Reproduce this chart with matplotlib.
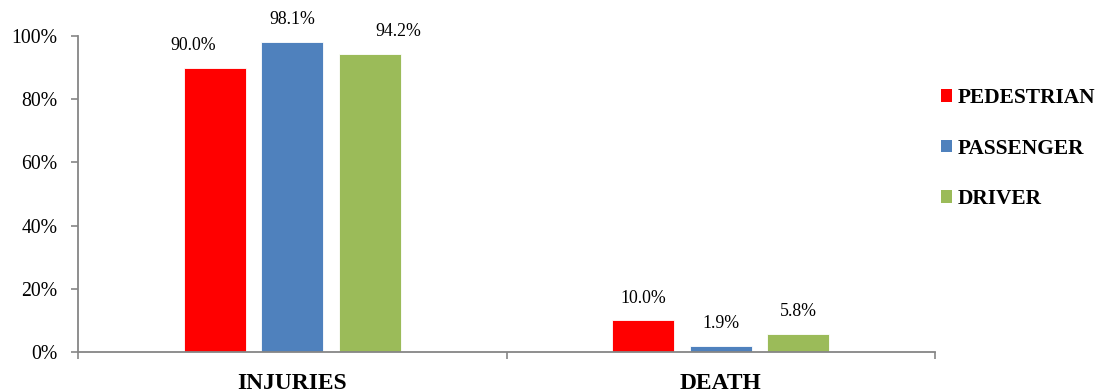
import matplotlib
matplotlib.use("Agg")
import matplotlib.pyplot as plt
import numpy as np
from matplotlib.patches import Patch

plt.rcParams["font.family"] = ["Liberation Serif", "DejaVu Serif"]

categories = ["INJURIES", "DEATH"]
series = ["PEDESTRIAN", "PASSENGER", "DRIVER"]
pedestrian = [90.0, 10.0]
passenger = [98.1, 1.9]
driver = [94.2, 5.8]
colors = ["#FF0000", "#4F81BD", "#9BBB59"]

# Excel nudged a couple of labels sideways in the first group (pixels)
label_dx = {(0, 0): -22, (0, 2): 29}

fig = plt.figure(figsize=(10.96, 3.92), dpi=100)
ax = fig.add_axes([78 / 1096, 1 - 352 / 392, (935 - 78) / 1096, (352 - 36) / 392])

x = np.arange(len(categories))
step = 0.181
width = 0.145
axis_grey = "#868686"
for i, (name, vals, col) in enumerate(zip(series, [pedestrian, passenger, driver], colors)):
    xs = x + (i - 1) * step
    ax.bar(xs, vals, width=width, color=col, edgecolor="white", linewidth=0.6, label=name)
    for j, (xx, v) in enumerate(zip(xs, vals)):
        dx = label_dx.get((j, i), 0) * 0.72
        ax.annotate(f"{v:.1f}%", (xx, v), xytext=(dx, 10), textcoords="offset points",
                    ha="center", va="bottom", fontsize=12.8)

ax.set_xlim(-0.5, 1.5)
ax.set_ylim(0, 100)
ax.set_yticks(np.arange(0, 101, 20))
ax.set_yticklabels([f"{t}%" for t in range(0, 101, 20)], fontsize=14.2)
ax.set_xticks(x)
ax.set_xticklabels(categories, fontsize=16.9, fontweight="bold")
ax.set_xticks([-0.5, 0.5, 1.5], minor=True)
ax.tick_params(axis="x", which="major", length=0, pad=15)
ax.tick_params(axis="x", which="minor", length=5, width=1.2, color=axis_grey, direction="out")
ax.tick_params(axis="y", length=5, width=1.2, color=axis_grey, pad=10)

for side in ["top", "right"]:
    ax.spines[side].set_visible(False)
for side in ["left", "bottom"]:
    ax.spines[side].set_color(axis_grey)
    ax.spines[side].set_linewidth(1.3)

handles = [Patch(facecolor=c, edgecolor="none") for c in colors]
fig.legend(handles, series, loc="upper left", bbox_to_anchor=(941 / 1096, 1 - 88 / 392),
           frameon=False, prop={"weight": "bold", "size": 15.4},
           handlelength=0.5, handleheight=0.5, handletextpad=0.3,
           labelspacing=1.43, borderpad=0, borderaxespad=0)

fig.savefig("out.png", dpi=100)
